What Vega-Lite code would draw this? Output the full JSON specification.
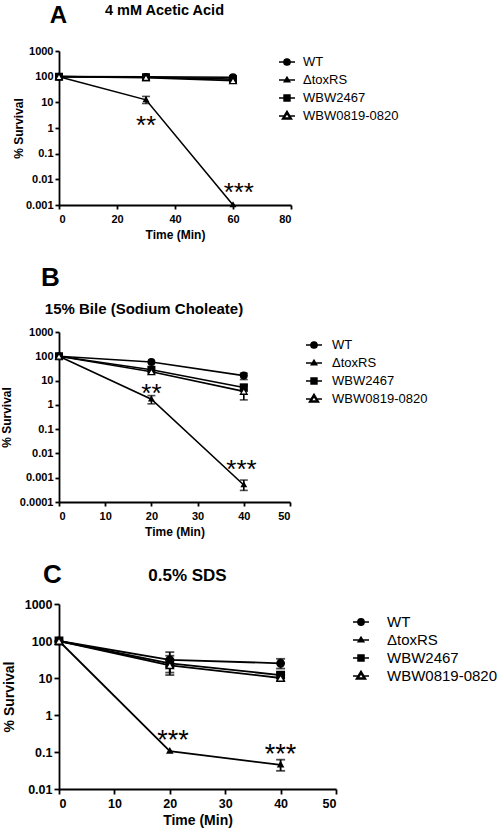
{
  "$schema": "https://vega.github.io/schema/vega-lite/v6.json",
  "background": "white",
  "padding": {"top": 2, "left": 0, "right": 0, "bottom": 0},
  "spacing": 24,
  "config": {
    "view": {"stroke": null},
    "font": "Liberation Sans",
    "axis": {
      "grid": false,
      "domainColor": "black", "domainWidth": 1.8,
      "tickColor": "black", "tickWidth": 1.8, "tickSize": 4,
      "labelFont": "Liberation Sans", "labelFontWeight": "bold", "labelFontSize": 11, "labelColor": "black", "labelPadding": 2,
      "titleFont": "Liberation Sans", "titleFontWeight": "bold", "titleFontSize": 12, "titleColor": "black"
    },
    "legend": {"labelFont": "Liberation Sans", "labelColor": "black"}
  },
  "datasets": {
    "survival": [
      {"panel": "A", "strain": "WT", "time": 0, "value": 100},
      {"panel": "A", "strain": "WT", "time": 30, "value": 98},
      {"panel": "A", "strain": "WT", "time": 60, "value": 95},
      {"panel": "A", "strain": "ΔtoxRS", "time": 0, "value": 100},
      {"panel": "A", "strain": "ΔtoxRS", "time": 30, "value": 12.5, "lo": 9, "hi": 17},
      {"panel": "A", "strain": "ΔtoxRS", "time": 60, "value": 0.001},
      {"panel": "A", "strain": "WBW2467", "time": 0, "value": 100},
      {"panel": "A", "strain": "WBW2467", "time": 30, "value": 95},
      {"panel": "A", "strain": "WBW2467", "time": 60, "value": 80},
      {"panel": "A", "strain": "WBW0819-0820", "time": 0, "value": 100},
      {"panel": "A", "strain": "WBW0819-0820", "time": 30, "value": 92},
      {"panel": "A", "strain": "WBW0819-0820", "time": 60, "value": 70},
      {"panel": "B", "strain": "WT", "time": 0, "value": 100},
      {"panel": "B", "strain": "WT", "time": 20, "value": 58},
      {"panel": "B", "strain": "WT", "time": 40, "value": 16, "lo": 11, "hi": 20},
      {"panel": "B", "strain": "ΔtoxRS", "time": 0, "value": 100},
      {"panel": "B", "strain": "ΔtoxRS", "time": 20, "value": 1.7, "lo": 1.1, "hi": 2.4},
      {"panel": "B", "strain": "ΔtoxRS", "time": 40, "value": 0.0005, "lo": 0.0003, "hi": 0.0008},
      {"panel": "B", "strain": "WBW2467", "time": 0, "value": 100},
      {"panel": "B", "strain": "WBW2467", "time": 20, "value": 28},
      {"panel": "B", "strain": "WBW2467", "time": 40, "value": 5.2, "lo": 3.6, "hi": 7},
      {"panel": "B", "strain": "WBW0819-0820", "time": 0, "value": 100},
      {"panel": "B", "strain": "WBW0819-0820", "time": 20, "value": 23},
      {"panel": "B", "strain": "WBW0819-0820", "time": 40, "value": 3.6, "lo": 1.6, "hi": 6},
      {"panel": "C", "strain": "WT", "time": 0, "value": 100},
      {"panel": "C", "strain": "WT", "time": 20, "value": 31, "lo": 20, "hi": 50},
      {"panel": "C", "strain": "WT", "time": 40, "value": 25, "lo": 18, "hi": 33},
      {"panel": "C", "strain": "ΔtoxRS", "time": 0, "value": 100},
      {"panel": "C", "strain": "ΔtoxRS", "time": 20, "value": 0.105},
      {"panel": "C", "strain": "ΔtoxRS", "time": 40, "value": 0.045, "lo": 0.031, "hi": 0.062},
      {"panel": "C", "strain": "WBW2467", "time": 0, "value": 100},
      {"panel": "C", "strain": "WBW2467", "time": 20, "value": 25, "lo": 12, "hi": 40},
      {"panel": "C", "strain": "WBW2467", "time": 40, "value": 12, "lo": 10, "hi": 14},
      {"panel": "C", "strain": "WBW0819-0820", "time": 0, "value": 100},
      {"panel": "C", "strain": "WBW0819-0820", "time": 20, "value": 22, "lo": 14, "hi": 32},
      {"panel": "C", "strain": "WBW0819-0820", "time": 40, "value": 10, "lo": 8.5, "hi": 12}
    ],
    "stars": [
      {"panel": "A", "time": 30, "value": 2.15, "label": "**"},
      {"panel": "A", "time": 62, "value": 0.0056, "label": "***"},
      {"panel": "B", "time": 20, "value": 5.6, "label": "**"},
      {"panel": "B", "time": 39.5, "value": 0.0039, "label": "***"},
      {"panel": "C", "time": 20.6, "value": 0.32, "label": "***"},
      {"panel": "C", "time": 40, "value": 0.13, "label": "***"}
    ]
  },
  "vconcat": [
    {
      "width": 232, "height": 154,
      "resolve": {"axis": {"x": "independent", "y": "independent"}, "scale": {"shape": "independent", "fill": "independent"}},
      "layer": [
        {
          "data": {"name": "survival"},
          "transform": [{"filter": "datum.panel === 'A'"}],
          "mark": {"type": "line", "color": "black", "strokeWidth": 1.6},
          "encoding": {
            "x": {"field": "time", "type": "quantitative", "scale": {"domain": [0, 80], "nice": false}, "axis": {"values": [0, 20, 40, 60, 80], "title": "Time (Min)", "labelPadding": 4, "titlePadding": 5}},
            "y": {"field": "value", "type": "quantitative", "scale": {"type": "log", "domain": [0.001, 1000], "nice": false}, "axis": {"values": [1000, 100, 10, 1, 0.1, 0.01, 0.001], "format": "~g", "title": "% Survival", "titlePadding": 0}},
            "detail": {"field": "strain"}
          }
        },
        {
          "data": {"name": "survival"},
          "transform": [{"filter": "datum.panel === 'A' && isValid(datum.lo)"}],
          "mark": {"type": "errorbar", "color": "black", "ticks": {"size": 8, "thickness": 1.6}, "rule": {"strokeWidth": 1.6}},
          "encoding": {
            "x": {"field": "time", "type": "quantitative", "axis": null},
            "y": {"field": "lo", "type": "quantitative", "axis": null},
            "y2": {"field": "hi"}
          }
        },
        {
          "data": {"name": "survival"},
          "transform": [{"filter": "datum.panel === 'A'"}],
          "mark": {"type": "point", "filled": true, "stroke": "black", "strokeWidth": 1.3, "opacity": 1, "size": 45},
          "encoding": {
            "x": {"field": "time", "type": "quantitative", "axis": null},
            "y": {"field": "value", "type": "quantitative", "axis": null},
            "shape": {"field": "strain", "type": "nominal", "scale": {"domain": ["WT", "ΔtoxRS", "WBW2467", "WBW0819-0820"], "range": ["circle", "M0,-0.75L0.7,0.5L-0.7,0.5Z", "square", "triangle-up"]}, "legend": null},
            "fill": {"field": "strain", "type": "nominal", "scale": {"domain": ["WT", "ΔtoxRS", "WBW2467", "WBW0819-0820"], "range": ["black", "black", "black", "white"]}, "legend": null}
          }
        },
        {
          "data": {"name": "survival"},
          "transform": [{"filter": "datum.panel === 'A' && datum.time === 0"}],
          "mark": {"type": "point", "filled": true, "color": "black", "stroke": "black", "strokeWidth": 1.3, "opacity": 0},
          "encoding": {
            "x": {"field": "time", "type": "quantitative", "axis": null},
            "y": {"field": "value", "type": "quantitative", "axis": null},
            "shape": {"field": "strain", "type": "nominal",
              "scale": {"domain": ["WT", "ΔtoxRS", "WBW2467", "WBW0819-0820"], "range": ["M-1,0H-0.4M0.4,0H1M0.4,0A0.4,0.4,0,1,1,-0.4,0A0.4,0.4,0,1,1,0.4,0Z", "M-1,0H1M0,-0.36L0.36,0.24L-0.36,0.24Z", "M-1,0H1M-0.38,-0.38H0.38V0.38H-0.38Z", "M-1,0H-0.36M0.36,0H1M0,-0.62L0.6,0.38L-0.6,0.38ZM0,-0.3L-0.36,0.24L0.36,0.24Z"]},
              "legend": {"title": null, "orient": "none", "legendX": 219, "legendY": 2, "padding": 0, "symbolSize": 256, "symbolStrokeWidth": 1.3, "labelFontSize": 13, "labelOffset": 7, "rowPadding": 2}}
          }
        },
        {
          "data": {"name": "stars"},
          "transform": [{"filter": "datum.panel === 'A'"}],
          "mark": {"type": "text", "fontSize": 26, "baseline": "alphabetic", "dy": 15, "color": "black"},
          "encoding": {
            "x": {"field": "time", "type": "quantitative", "axis": {"orient": "top", "domain": false, "ticks": false, "labels": false, "title": "4 mM Acetic Acid", "titleX": 105, "titleY": -41, "titleFontSize": 14.5, "titleBaseline": "middle", "titleAlign": "center"}},
            "y": {"field": "value", "type": "quantitative", "axis": {"orient": "left", "domain": false, "ticks": false, "labels": false, "title": "A", "titleX": -1, "titleY": -36, "titleAngle": 0, "titleFontSize": 24, "titleBaseline": "middle", "titleAlign": "center"}},
            "text": {"field": "label"}
          }
        }
      ]
    },
    {
      "width": 231, "height": 170,
      "resolve": {"axis": {"x": "independent", "y": "independent"}, "scale": {"shape": "independent", "fill": "independent"}},
      "layer": [
        {
          "data": {"name": "survival"},
          "transform": [{"filter": "datum.panel === 'B'"}],
          "mark": {"type": "line", "color": "black", "strokeWidth": 1.6},
          "encoding": {
            "x": {"field": "time", "type": "quantitative", "scale": {"domain": [0, 50], "nice": false}, "axis": {"values": [0, 10, 20, 30, 40, 50], "title": "Time (Min)", "labelPadding": 4, "titlePadding": 5}},
            "y": {"field": "value", "type": "quantitative", "scale": {"type": "log", "domain": [0.0001, 1000], "nice": false}, "axis": {"values": [1000, 100, 10, 1, 0.1, 0.01, 0.001, 0.0001], "format": "~g", "title": "% Survival", "titlePadding": 5.5}},
            "detail": {"field": "strain"}
          }
        },
        {
          "data": {"name": "survival"},
          "transform": [{"filter": "datum.panel === 'B' && isValid(datum.lo)"}],
          "mark": {"type": "errorbar", "color": "black", "ticks": {"size": 8, "thickness": 1.6}, "rule": {"strokeWidth": 1.6}},
          "encoding": {
            "x": {"field": "time", "type": "quantitative", "axis": null},
            "y": {"field": "lo", "type": "quantitative", "axis": null},
            "y2": {"field": "hi"}
          }
        },
        {
          "data": {"name": "survival"},
          "transform": [{"filter": "datum.panel === 'B'"}],
          "mark": {"type": "point", "filled": true, "stroke": "black", "strokeWidth": 1.3, "opacity": 1, "size": 45},
          "encoding": {
            "x": {"field": "time", "type": "quantitative", "axis": null},
            "y": {"field": "value", "type": "quantitative", "axis": null},
            "shape": {"field": "strain", "type": "nominal", "scale": {"domain": ["WT", "ΔtoxRS", "WBW2467", "WBW0819-0820"], "range": ["circle", "M0,-0.75L0.7,0.5L-0.7,0.5Z", "square", "triangle-up"]}, "legend": null},
            "fill": {"field": "strain", "type": "nominal", "scale": {"domain": ["WT", "ΔtoxRS", "WBW2467", "WBW0819-0820"], "range": ["black", "black", "black", "white"]}, "legend": null}
          }
        },
        {
          "data": {"name": "survival"},
          "transform": [{"filter": "datum.panel === 'B' && datum.time === 0"}],
          "mark": {"type": "point", "filled": true, "color": "black", "stroke": "black", "strokeWidth": 1.3, "opacity": 0},
          "encoding": {
            "x": {"field": "time", "type": "quantitative", "axis": null},
            "y": {"field": "value", "type": "quantitative", "axis": null},
            "shape": {"field": "strain", "type": "nominal",
              "scale": {"domain": ["WT", "ΔtoxRS", "WBW2467", "WBW0819-0820"], "range": ["M-1,0H-0.4M0.4,0H1M0.4,0A0.4,0.4,0,1,1,-0.4,0A0.4,0.4,0,1,1,0.4,0Z", "M-1,0H1M0,-0.36L0.36,0.24L-0.36,0.24Z", "M-1,0H1M-0.38,-0.38H0.38V0.38H-0.38Z", "M-1,0H-0.36M0.36,0H1M0,-0.62L0.6,0.38L-0.6,0.38ZM0,-0.3L-0.36,0.24L0.36,0.24Z"]},
              "legend": {"title": null, "orient": "none", "legendX": 246, "legendY": 4, "padding": 0, "symbolSize": 256, "symbolStrokeWidth": 1.3, "labelFontSize": 13, "labelOffset": 9, "rowPadding": 2}}
          }
        },
        {
          "data": {"name": "stars"},
          "transform": [{"filter": "datum.panel === 'B'"}],
          "mark": {"type": "text", "fontSize": 26, "baseline": "alphabetic", "dy": 15, "color": "black"},
          "encoding": {
            "x": {"field": "time", "type": "quantitative", "axis": {"orient": "top", "domain": false, "ticks": false, "labels": false, "title": "15% Bile (Sodium Choleate)", "titleX": 84.5, "titleY": -24, "titleFontSize": 15, "titleBaseline": "middle", "titleAlign": "center"}},
            "y": {"field": "value", "type": "quantitative", "axis": {"orient": "left", "domain": false, "ticks": false, "labels": false, "title": "B", "titleX": -9, "titleY": -55, "titleAngle": 0, "titleFontSize": 26, "titleBaseline": "middle", "titleAlign": "center"}},
            "text": {"field": "label"}
          }
        }
      ]
    },
    {
      "width": 277, "height": 185,
      "resolve": {"axis": {"x": "independent", "y": "independent"}, "scale": {"shape": "independent", "fill": "independent"}},
      "layer": [
        {
          "data": {"name": "survival"},
          "transform": [{"filter": "datum.panel === 'C'"}],
          "mark": {"type": "line", "color": "black", "strokeWidth": 1.8},
          "encoding": {
            "x": {"field": "time", "type": "quantitative", "scale": {"domain": [0, 50], "nice": false}, "axis": {"values": [0, 10, 20, 30, 40, 50], "title": "Time (Min)", "labelFontSize": 12.5, "titleFontSize": 14, "tickSize": 5, "labelPadding": 3, "titlePadding": 4}},
            "y": {"field": "value", "type": "quantitative", "scale": {"type": "log", "domain": [0.01, 1000], "nice": false}, "axis": {"values": [1000, 100, 10, 1, 0.1, 0.01], "format": "~g", "title": "% Survival", "labelFontSize": 12.5, "titleFontSize": 14, "tickSize": 5, "titlePadding": 8}},
            "detail": {"field": "strain"}
          }
        },
        {
          "data": {"name": "survival"},
          "transform": [{"filter": "datum.panel === 'C' && isValid(datum.lo)"}],
          "mark": {"type": "errorbar", "color": "black", "ticks": {"size": 9, "thickness": 1.8}, "rule": {"strokeWidth": 1.8}},
          "encoding": {
            "x": {"field": "time", "type": "quantitative", "axis": null},
            "y": {"field": "lo", "type": "quantitative", "axis": null},
            "y2": {"field": "hi"}
          }
        },
        {
          "data": {"name": "survival"},
          "transform": [{"filter": "datum.panel === 'C'"}],
          "mark": {"type": "point", "filled": true, "stroke": "black", "strokeWidth": 1.4, "opacity": 1, "size": 55},
          "encoding": {
            "x": {"field": "time", "type": "quantitative", "axis": null},
            "y": {"field": "value", "type": "quantitative", "axis": null},
            "shape": {"field": "strain", "type": "nominal", "scale": {"domain": ["WT", "ΔtoxRS", "WBW2467", "WBW0819-0820"], "range": ["circle", "M0,-0.75L0.7,0.5L-0.7,0.5Z", "square", "triangle-up"]}, "legend": null},
            "fill": {"field": "strain", "type": "nominal", "scale": {"domain": ["WT", "ΔtoxRS", "WBW2467", "WBW0819-0820"], "range": ["black", "black", "black", "white"]}, "legend": null}
          }
        },
        {
          "data": {"name": "survival"},
          "transform": [{"filter": "datum.panel === 'C' && datum.time === 0"}],
          "mark": {"type": "point", "filled": true, "color": "black", "stroke": "black", "strokeWidth": 1.4, "opacity": 0},
          "encoding": {
            "x": {"field": "time", "type": "quantitative", "axis": null},
            "y": {"field": "value", "type": "quantitative", "axis": null},
            "shape": {"field": "strain", "type": "nominal",
              "scale": {"domain": ["WT", "ΔtoxRS", "WBW2467", "WBW0819-0820"], "range": ["M-1,0H-0.4M0.4,0H1M0.4,0A0.4,0.4,0,1,1,-0.4,0A0.4,0.4,0,1,1,0.4,0Z", "M-1,0H1M0,-0.36L0.36,0.24L-0.36,0.24Z", "M-1,0H1M-0.38,-0.38H0.38V0.38H-0.38Z", "M-1,0H-0.36M0.36,0H1M0,-0.62L0.6,0.38L-0.6,0.38ZM0,-0.3L-0.36,0.24L0.36,0.24Z"]},
              "legend": {"title": null, "orient": "none", "legendX": 293, "legendY": 9, "padding": 0, "symbolSize": 256, "symbolStrokeWidth": 1.4, "labelFontSize": 15, "labelOffset": 17, "rowPadding": 1}}
          }
        },
        {
          "data": {"name": "stars"},
          "transform": [{"filter": "datum.panel === 'C'"}],
          "mark": {"type": "text", "fontSize": 27, "baseline": "alphabetic", "dy": 15.5, "color": "black"},
          "encoding": {
            "x": {"field": "time", "type": "quantitative", "axis": {"orient": "top", "domain": false, "ticks": false, "labels": false, "title": "0.5% SDS", "titleX": 128, "titleY": -29, "titleFontSize": 17, "titleBaseline": "middle", "titleAlign": "center"}},
            "y": {"field": "value", "type": "quantitative", "axis": {"orient": "left", "domain": false, "ticks": false, "labels": false, "title": "C", "titleX": -7, "titleY": -30, "titleAngle": 0, "titleFontSize": 26, "titleBaseline": "middle", "titleAlign": "center"}},
            "text": {"field": "label"}
          }
        }
      ]
    }
  ]
}
